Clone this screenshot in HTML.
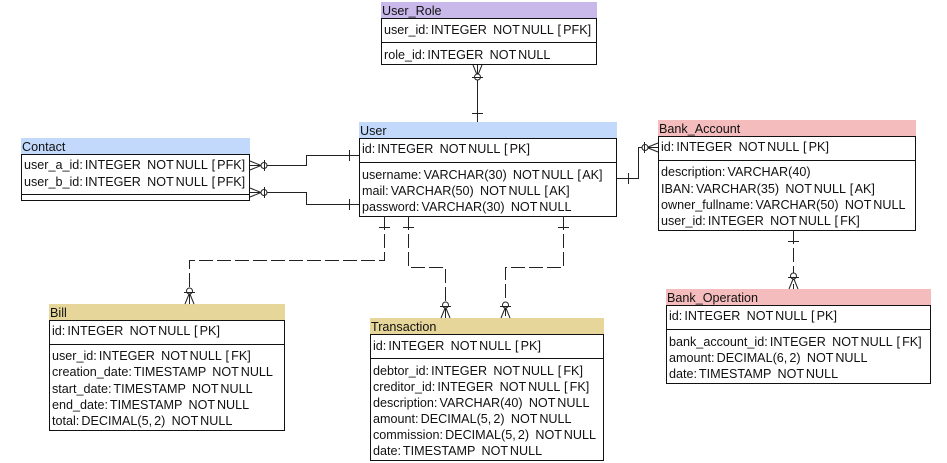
<!DOCTYPE html>
<html><head><meta charset="utf-8"><style>
html,body{margin:0;padding:0;background:#fff;}
svg{display:block;}
text{font-family:"Liberation Sans",sans-serif;font-size:12.6px;word-spacing:-1.4px;fill:#111;white-space:pre;}
</style></head><body>
<svg width="947" height="463" viewBox="0 0 947 463" xmlns="http://www.w3.org/2000/svg" xml:space="preserve">
<g stroke="#111" stroke-width="1" fill="none" shape-rendering="crispEdges">
<rect x="381" y="2" width="216" height="16" fill="#c9b9ea" stroke="none"/>
<rect x="381.5" y="18.5" width="215" height="46" fill="#fff"/>
<line x1="381" y1="42.5" x2="597" y2="42.5"/>
<rect x="359" y="122" width="258" height="16" fill="#c3d9fb" stroke="none"/>
<rect x="359.5" y="138.5" width="257" height="78" fill="#fff"/>
<line x1="359" y1="162.5" x2="617" y2="162.5"/>
<rect x="21" y="138" width="229" height="16" fill="#c3d9fb" stroke="none"/>
<rect x="21.5" y="154.5" width="228" height="46" fill="#fff"/>
<line x1="21" y1="194.5" x2="250" y2="194.5"/>
<rect x="658" y="120" width="258" height="16" fill="#f4bcbc" stroke="none"/>
<rect x="658.5" y="136.5" width="257" height="94" fill="#fff"/>
<line x1="658" y1="160.5" x2="916" y2="160.5"/>
<rect x="666" y="289" width="265" height="16" fill="#f4bcbc" stroke="none"/>
<rect x="666.5" y="305.5" width="264" height="78" fill="#fff"/>
<line x1="666" y1="329.5" x2="931" y2="329.5"/>
<rect x="49" y="304" width="236" height="16" fill="#e6d699" stroke="none"/>
<rect x="49.5" y="320.5" width="235" height="110" fill="#fff"/>
<line x1="49" y1="344.5" x2="285" y2="344.5"/>
<rect x="370" y="318" width="234" height="16" fill="#e6d699" stroke="none"/>
<rect x="370.5" y="334.5" width="233" height="126" fill="#fff"/>
<line x1="370" y1="358.5" x2="604" y2="358.5"/>
</g>

<g stroke="#222" stroke-width="1" fill="none">
<line x1="477.5" y1="65" x2="477.5" y2="122"/>
<line x1="472" y1="113.5" x2="483" y2="113.5"/>
<line x1="473" y1="65" x2="477.5" y2="76"/><line x1="482" y1="65" x2="477.5" y2="76"/>
<circle cx="477.5" cy="77" r="3" fill="#fff"/>
<line x1="472" y1="77.5" x2="483" y2="77.5"/>
<polyline points="250,165.5 306.5,165.5 306.5,155.5 359,155.5"/>
<line x1="349.5" y1="150" x2="349.5" y2="161"/>
<line x1="250" y1="161" x2="261" y2="165.5"/><line x1="250" y1="170" x2="261" y2="165.5"/>
<circle cx="264" cy="165.5" r="3" fill="#fff"/>
<line x1="264.5" y1="160" x2="264.5" y2="171"/>
<polyline points="250,192.5 306.5,192.5 306.5,204.5 359,204.5"/>
<line x1="349.5" y1="199" x2="349.5" y2="210"/>
<line x1="250" y1="188" x2="261" y2="192.5"/><line x1="250" y1="197" x2="261" y2="192.5"/>
<circle cx="264" cy="192.5" r="3" fill="#fff"/>
<line x1="264.5" y1="187" x2="264.5" y2="198"/>
<polyline points="617,178.5 638.5,178.5 638.5,147.5 658,147.5"/>
<line x1="628.5" y1="173" x2="628.5" y2="184"/>
<line x1="658" y1="143" x2="647" y2="147.5"/><line x1="658" y1="152" x2="647" y2="147.5"/>
<circle cx="645" cy="147.5" r="3" fill="#fff"/>
<line x1="644.5" y1="142" x2="644.5" y2="153"/>
<line x1="793.5" y1="230" x2="793.5" y2="289" stroke-dasharray="14,4"/>
<line x1="788" y1="241.5" x2="799" y2="241.5"/>
<line x1="789" y1="289" x2="793.5" y2="278"/><line x1="798" y1="289" x2="793.5" y2="278"/>
<circle cx="793.5" cy="276" r="3" fill="#fff"/>
<line x1="788" y1="277.5" x2="799" y2="277.5"/>
<polyline points="384.5,216 384.5,260.5 189.5,260.5 189.5,304" stroke-dasharray="14,4"/>
<line x1="379" y1="227.5" x2="390" y2="227.5"/>
<line x1="185" y1="304" x2="189.5" y2="293"/><line x1="194" y1="304" x2="189.5" y2="293"/>
<circle cx="189.5" cy="291" r="3" fill="#fff"/>
<line x1="184" y1="292.5" x2="195" y2="292.5"/>
<polyline points="408.5,216 408.5,267.5 445.5,267.5 445.5,318" stroke-dasharray="14,4"/>
<line x1="403" y1="227.5" x2="414" y2="227.5"/>
<line x1="441" y1="318" x2="445.5" y2="307"/><line x1="450" y1="318" x2="445.5" y2="307"/>
<circle cx="445.5" cy="305" r="3" fill="#fff"/>
<line x1="440" y1="306.5" x2="451" y2="306.5"/>
<polyline points="563.5,216 563.5,267.5 505.5,267.5 505.5,318" stroke-dasharray="14,4"/>
<line x1="558" y1="227.5" x2="569" y2="227.5"/>
<line x1="501" y1="318" x2="505.5" y2="307"/><line x1="510" y1="318" x2="505.5" y2="307"/>
<circle cx="505.5" cy="305" r="3" fill="#fff"/>
<line x1="500" y1="306.5" x2="511" y2="306.5"/>
</g>

<text x="382" y="15">User_Role</text>
<text x="384" y="34">user_id: INTEGER   NOT NULL  [ PFK]</text>
<text x="384" y="59">role_id: INTEGER   NOT NULL</text>

<text x="360" y="135">User</text>
<text x="362" y="153">id: INTEGER   NOT NULL  [ PK]</text>
<text x="362" y="179">username: VARCHAR(30)   NOT NULL  [ AK]</text>
<text x="362" y="195">mail: VARCHAR(50)   NOT NULL  [ AK]</text>
<text x="362" y="211">password: VARCHAR(30)   NOT NULL</text>

<text x="22" y="151">Contact</text>
<text x="24" y="169">user_a_id: INTEGER   NOT NULL  [ PFK]</text>
<text x="24" y="186">user_b_id: INTEGER   NOT NULL  [ PFK]</text>

<text x="659" y="133">Bank_Account</text>
<text x="661" y="151">id: INTEGER   NOT NULL  [ PK]</text>
<text x="661" y="176">description: VARCHAR(40)</text>
<text x="661" y="193">IBAN: VARCHAR(35)   NOT NULL  [ AK]</text>
<text x="661" y="209">owner_fullname: VARCHAR(50)   NOT NULL</text>
<text x="661" y="225">user_id: INTEGER   NOT NULL  [ FK]</text>

<text x="667" y="302">Bank_Operation</text>
<text x="669" y="320">id: INTEGER   NOT NULL  [ PK]</text>
<text x="669" y="346">bank_account_id: INTEGER   NOT NULL  [ FK]</text>
<text x="669" y="362">amount: DECIMAL(6, 2)   NOT NULL</text>
<text x="669" y="378">date: TIMESTAMP   NOT NULL</text>

<text x="50" y="317">Bill</text>
<text x="52" y="335">id: INTEGER   NOT NULL  [ PK]</text>
<text x="52" y="360">user_id: INTEGER   NOT NULL  [ FK]</text>
<text x="52" y="376">creation_date: TIMESTAMP   NOT NULL</text>
<text x="52" y="393">start_date: TIMESTAMP   NOT NULL</text>
<text x="52" y="409">end_date: TIMESTAMP   NOT NULL</text>
<text x="52" y="425">total: DECIMAL(5, 2)   NOT NULL</text>

<text x="371" y="331">Transaction</text>
<text x="373" y="350">id: INTEGER   NOT NULL  [ PK]</text>
<text x="373" y="375">debtor_id: INTEGER   NOT NULL  [ FK]</text>
<text x="373" y="391">creditor_id: INTEGER   NOT NULL  [ FK]</text>
<text x="373" y="407">description: VARCHAR(40)   NOT NULL</text>
<text x="373" y="423">amount: DECIMAL(5, 2)   NOT NULL</text>
<text x="373" y="439">commission: DECIMAL(5, 2)   NOT NULL</text>
<text x="373" y="455">date: TIMESTAMP   NOT NULL</text>
</svg>
</body></html>
